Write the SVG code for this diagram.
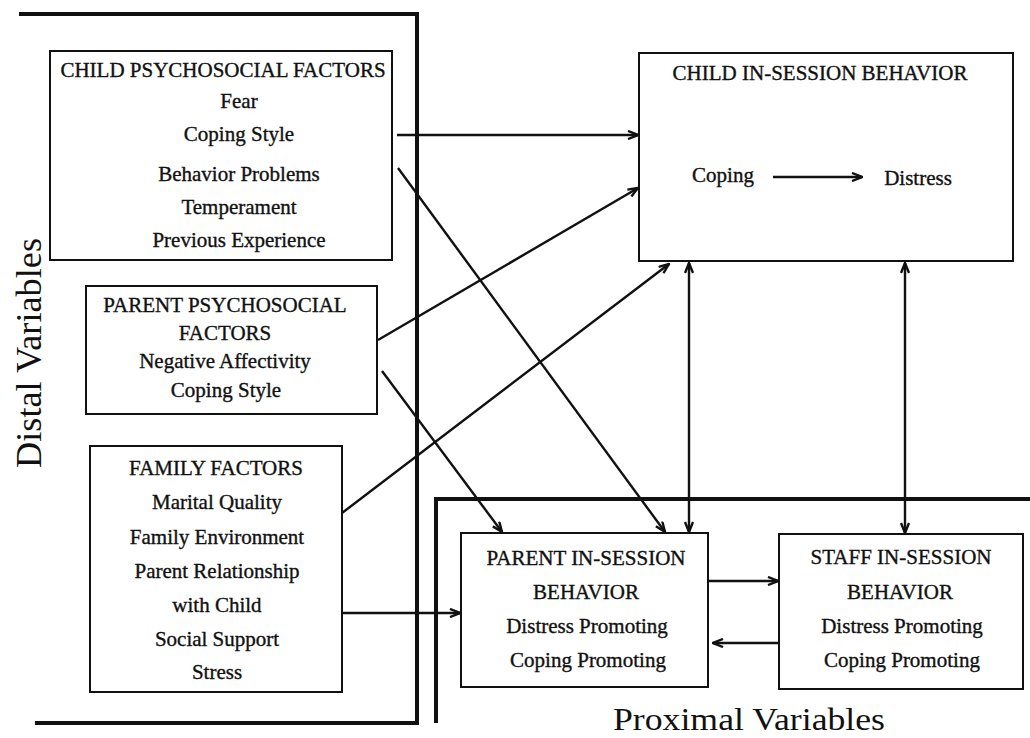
<svg xmlns="http://www.w3.org/2000/svg" width="1030" height="738" viewBox="0 0 1030 738">
<style>
.box{fill:none;stroke:#111;stroke-width:2}
.frame{fill:none;stroke:#111;stroke-width:4}
.t{font-family:"Liberation Serif","Times New Roman",serif;font-size:21px;fill:#111;stroke:#111;stroke-width:0.35;text-anchor:middle}
.big{font-family:"Liberation Serif","Times New Roman",serif;font-size:35px;fill:#111}
.c{fill:none;stroke:#111;stroke-width:2.4}
</style>
<defs>
<marker id="ah" viewBox="0 0 12 10" refX="11" refY="5" markerWidth="12" markerHeight="10" orient="auto-start-reverse" markerUnits="userSpaceOnUse">
<path d="M1,1 L11,5 L1,9" fill="none" stroke="#111" stroke-width="2.4"/>
</marker>
</defs>
<rect width="1030" height="738" fill="#fff"/>

<g id="distal-frame">
<polyline class="frame" points="19,14 417,14 417,725"/>
<line class="frame" x1="35" y1="723" x2="419" y2="723"/>
<text class="big" transform="translate(41,468) rotate(-90)" textLength="230" lengthAdjust="spacingAndGlyphs">Distal Variables</text>
</g>

<g id="proximal-frame">
<polyline class="frame" points="436,723 436,499 1030,499"/>
<text class="big" x="613" y="730" style="font-size:32px" textLength="272" lengthAdjust="spacingAndGlyphs">Proximal Variables</text>
</g>

<g id="child-psychosocial">
<rect class="box" x="50" y="51" width="342" height="209"/>
<text class="t" x="223" y="77">CHILD PSYCHOSOCIAL FACTORS</text>
<text class="t" x="239" y="108">Fear</text>
<text class="t" x="239" y="141">Coping Style</text>
<text class="t" x="239" y="181">Behavior Problems</text>
<text class="t" x="239" y="214">Temperament</text>
<text class="t" x="239" y="247">Previous Experience</text>
</g>

<g id="parent-psychosocial">
<rect class="box" x="86" y="286" width="291" height="128"/>
<text class="t" x="225" y="312">PARENT PSYCHOSOCIAL</text>
<text class="t" x="225" y="340">FACTORS</text>
<text class="t" x="225" y="368">Negative Affectivity</text>
<text class="t" x="226" y="397">Coping Style</text>
</g>

<g id="family-factors">
<rect class="box" x="90" y="446" width="252" height="246"/>
<text class="t" x="216" y="475">FAMILY FACTORS</text>
<text class="t" x="217" y="509">Marital Quality</text>
<text class="t" x="217" y="544">Family Environment</text>
<text class="t" x="217" y="578">Parent Relationship</text>
<text class="t" x="217" y="612">with Child</text>
<text class="t" x="217" y="646">Social Support</text>
<text class="t" x="217" y="679">Stress</text>
</g>

<g id="child-in-session">
<rect class="box" x="639" y="53" width="374" height="208"/>
<text class="t" x="820" y="80">CHILD IN-SESSION BEHAVIOR</text>
<text class="t" x="723" y="182">Coping</text>
<text class="t" x="918" y="185">Distress</text>
<line class="c" x1="773" y1="177" x2="862" y2="177" marker-end="url(#ah)"/>
</g>

<g id="parent-in-session">
<rect class="box" x="461" y="533" width="247" height="154"/>
<text class="t" x="586" y="565">PARENT IN-SESSION</text>
<text class="t" x="586" y="599">BEHAVIOR</text>
<text class="t" x="587" y="633">Distress Promoting</text>
<text class="t" x="588" y="667">Coping Promoting</text>
</g>

<g id="staff-in-session">
<rect class="box" x="779" y="534" width="244" height="155"/>
<text class="t" x="901" y="564">STAFF IN-SESSION</text>
<text class="t" x="900" y="599">BEHAVIOR</text>
<text class="t" x="902" y="633">Distress Promoting</text>
<text class="t" x="902" y="667">Coping Promoting</text>
</g>

<g id="connectors">
<line class="c" x1="397" y1="135" x2="638" y2="135" marker-end="url(#ah)"/>
<line class="c" x1="378" y1="340" x2="638" y2="188" marker-end="url(#ah)"/>
<line class="c" x1="342" y1="513" x2="669" y2="264" marker-end="url(#ah)"/>
<line class="c" x1="398" y1="168" x2="665" y2="532" marker-end="url(#ah)"/>
<line class="c" x1="382" y1="371" x2="502" y2="532" marker-end="url(#ah)"/>
<line class="c" x1="342" y1="613" x2="460" y2="613" marker-end="url(#ah)"/>
<line class="c" x1="689" y1="263" x2="689" y2="532" marker-start="url(#ah)" marker-end="url(#ah)"/>
<line class="c" x1="905" y1="263" x2="905" y2="533" marker-start="url(#ah)" marker-end="url(#ah)"/>
<line class="c" x1="708" y1="581" x2="778" y2="581" marker-end="url(#ah)"/>
<line class="c" x1="779" y1="643" x2="713" y2="643" marker-end="url(#ah)"/>
</g>
</svg>
